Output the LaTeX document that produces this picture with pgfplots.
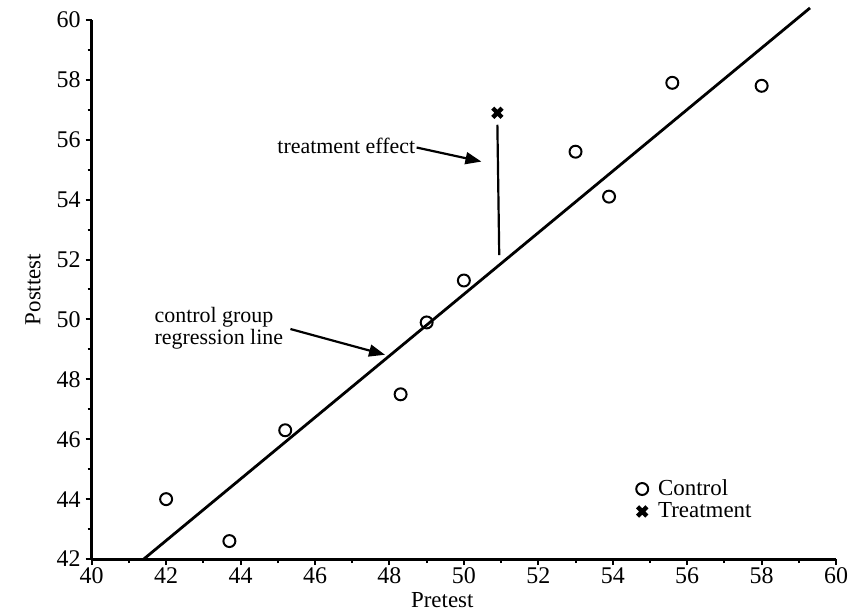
\documentclass[border=0pt]{standalone}
\usepackage{fontspec}
\setmainfont{Liberation Serif}
\usepackage{pgfplots}
\pgfplotsset{compat=1.18}
\usetikzlibrary{arrows.meta}
\begin{document}
\begin{tikzpicture}
\begin{axis}[
  scale only axis,
  width=373.5pt, height=270.5pt,
  xmin=40, xmax=60, ymin=42, ymax=60,
  axis lines=left,
  axis line style={line width=1.5pt, -},
  xtick={40,42,...,60}, ytick={42,44,...,60},
  minor x tick num=1, minor y tick num=1,
  tick align=outside,
  major tick length=3pt, minor tick length=2pt,
  tick style={line width=1pt, black},
  /pgf/number format/assume math mode=true,
  tick label style={font=\fontsize{12}{13}\selectfont},
  yticklabel style={xshift=1pt},
  xticklabel style={yshift=2pt},
  label style={font=\fontsize{11.5}{13}\selectfont},
  xlabel={Pretest},
  ylabel={Posttest},
  xlabel style={at={(axis description cs:0.471,-0.076)}, anchor=center, inner sep=0pt},
  ylabel style={at={(axis description cs:-0.079,0.5)}, anchor=center, rotate=0},
  clip=false,
  legend style={draw=none, fill=none, at={(axis cs:54.62,44.8)}, anchor=north west,
    font=\fontsize{11.5}{13}\selectfont, inner sep=0pt, row sep=-2pt,
    /tikz/every odd column/.append style={column sep=3pt}},
  legend cell align=left,
  legend image code/.code={\draw[#1] plot coordinates {(0.15cm,0cm)};},
]
\addplot[only marks, mark=o, mark size=3pt, line width=1pt, black]
  coordinates {
  (42.0,44.0) (43.7,42.6) (45.2,46.3) (48.3,47.5) (49.0,49.9)
  (50.0,51.3) (53.0,55.6) (53.9,54.1) (55.6,57.9) (58.0,57.8)
  };
\addlegendentry{Control}
\addplot[only marks, mark=x, mark size=3.3pt, line width=2.2pt, black]
  coordinates {(50.9,56.9)};
\addlegendentry{Treatment}
\addplot[black, line width=1.4pt, forget plot] coordinates {(41.4,42) (59.3,60.4)};
\draw[black, line width=1.1pt] (axis cs:50.95,52.15) -- (axis cs:50.9,56.5);
\node[anchor=west, inner sep=0pt, font=\fontsize{11}{13}\selectfont] at (axis cs:44.98,55.78) {treatment effect};
\draw[black, line width=1.1pt, -{Triangle[length=8pt,width=6pt]}] (axis cs:48.73,55.74) -- (axis cs:50.47,55.27);
\node[anchor=west, inner sep=0pt, align=left, font=\fontsize{11}{11}\selectfont] at (axis cs:41.68,49.72) {control group\\regression line};
\draw[black, line width=1.1pt, -{Triangle[length=8pt,width=6pt]}] (axis cs:45.34,49.68) -- (axis cs:47.88,48.82);
\end{axis}
\pgfresetboundingbox
\path (-46pt,-27pt) rectangle (385pt,280.5pt);
\end{tikzpicture}
\end{document}
